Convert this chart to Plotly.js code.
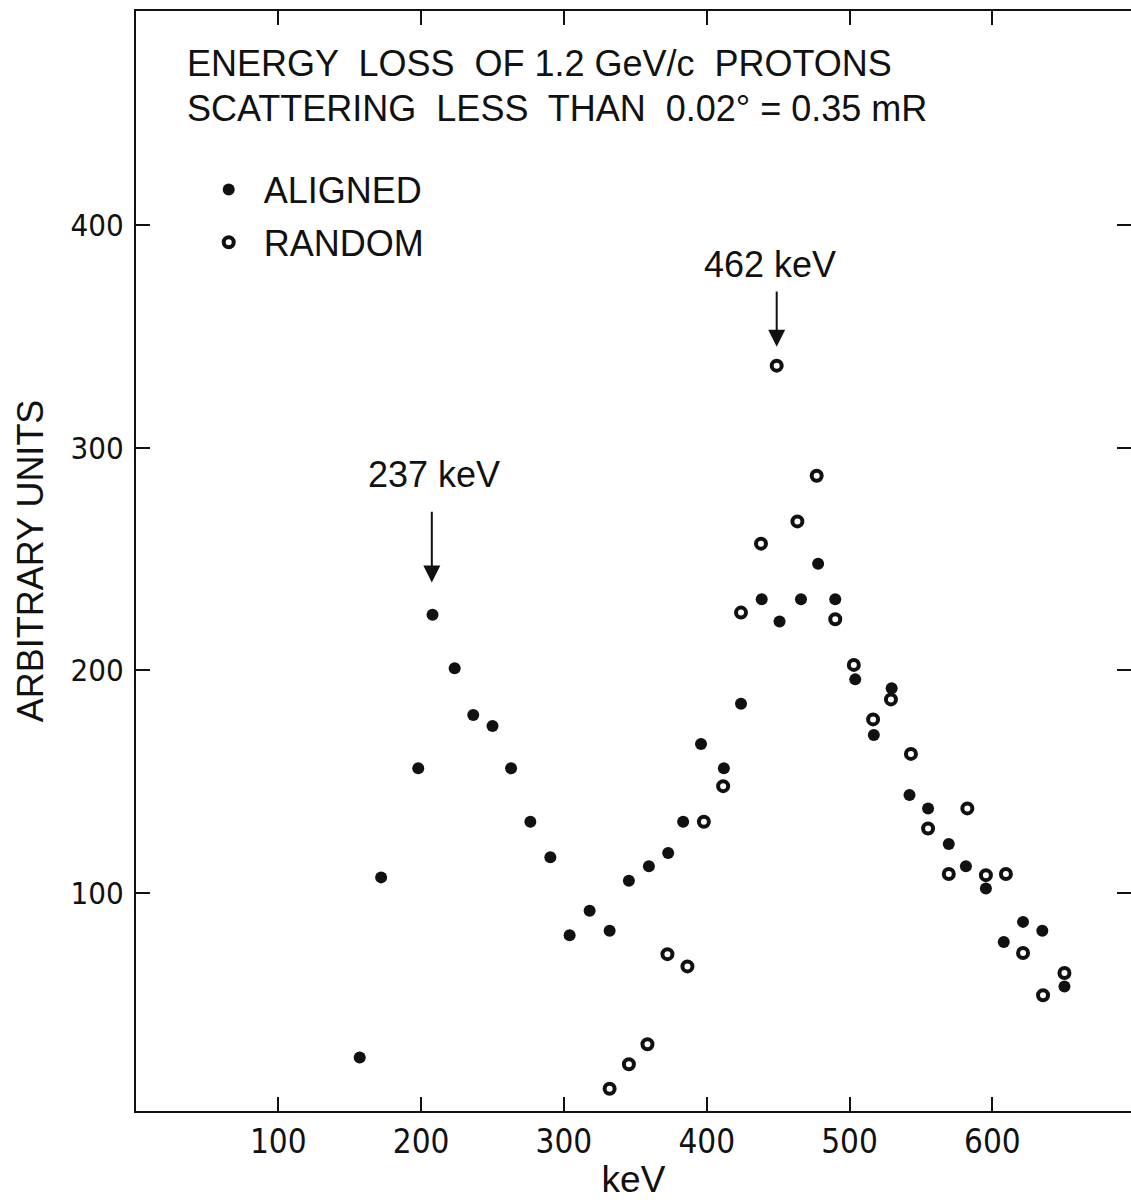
<!DOCTYPE html>
<html><head><meta charset="utf-8">
<script src="https://cdn.plot.ly/plotly-3.0.1.min.js"></script>
<style>html,body{margin:0;padding:0;background:#fff;overflow:hidden}</style>
</head><body><div id="chart" style="width:1131px;height:1200px"></div>
<script>
// Aligned (filled circles)
const alignedKeV = [157, 172, 198, 208, 223.5, 236.5, 250, 263, 276.5, 290.5, 304, 318, 332, 345.5, 359.5, 373, 383.5, 396, 412, 424, 438.5, 451, 466, 478, 490, 504, 517, 529.5, 542, 555, 569.5, 581.5, 595.5, 608, 621.5, 635, 650.5];
const alignedCounts = [26, 107, 156, 225, 201, 180, 175, 156, 132, 116, 81, 92, 83, 105.5, 112, 118, 132, 167, 156, 185, 232, 222, 232, 248, 232, 196, 171, 192, 144, 138, 122, 112, 102, 78, 87, 83, 58];
// Random (open circles)
const randomKeV = [332, 345.5, 358.5, 372.5, 386.5, 398, 411.5, 424, 438, 449, 463.5, 477, 490, 503, 516.5, 529, 543, 555, 569.5, 582.5, 595.5, 609.5, 621.5, 635.5, 650.5];
const randomCounts = [12, 23, 32, 72.5, 67, 132, 148, 226, 257, 337, 267, 287.5, 223, 202.5, 178, 187, 162.5, 129, 108.5, 138, 108, 108.5, 73, 54, 64];
const xTickVals = [100, 200, 300, 400, 500, 600];
const yTickVals = [100, 200, 300, 400];
const titleLines = ["ENERGY  LOSS  OF 1.2 GeV/c  PROTONS", "SCATTERING  LESS  THAN  0.02° = 0.35 mR"];
const peakLabels = ["462 keV", "237 keV"];
const peakArrowKeV = [449, 207.5];
const peakArrowTip = [345.5, 239.5];
const peakArrowTail = [371, 272];
const peakTextKeV = [444, 209];
const peakTextY = [382.5, 288];

const INK = '#111';
const condensed = '"Liberation Sans Narrow", "DejaVu Sans Condensed", "Liberation Sans", sans-serif';
const sans = '"Liberation Sans", Arial, sans-serif';
const textFont = {family: sans, size: 36, color: INK};

const traces = [
  {x: alignedKeV, y: alignedCounts, type: 'scatter', mode: 'markers', name: 'ALIGNED', legendgroup: 'a',
   marker: {symbol: 'circle', size: 12, color: INK}},
  {x: randomKeV, y: randomCounts, type: 'scatter', mode: 'markers', name: 'RANDOM', legendgroup: 'r',
   marker: {symbol: 'circle-open', size: 10, color: INK, line: {width: 4, color: INK}}}
];

const annotations = [];
titleLines.forEach((t, i) => annotations.push({
  text: t, xref: 'paper', yref: 'paper', x: 0.049, y: [0.9527, 0.9118][i],
  xanchor: 'left', yanchor: 'middle', showarrow: false, font: textFont
}));
peakLabels.forEach((t, i) => {
  annotations.push({text: t, xref: 'x', yref: 'y', x: peakTextKeV[i], y: peakTextY[i],
    xanchor: 'center', yanchor: 'middle', showarrow: false, font: textFont});
  annotations.push({text: '', xref: 'x', yref: 'y', x: peakArrowKeV[i], y: peakArrowTip[i],
    axref: 'x', ayref: 'y', ax: peakArrowKeV[i], ay: peakArrowTail[i],
    showarrow: true, arrowhead: 2, arrowsize: 1.7, arrowwidth: 2, arrowcolor: INK});
});

const layout = {
  width: 1131, height: 1200,
  margin: {l: 136, r: 0, t: 11, b: 89},
  paper_bgcolor: '#fff', plot_bgcolor: '#fff',
  showlegend: true,
  legend: {x: 0.058, y: 0.865, xanchor: 'left', yanchor: 'top', bgcolor: 'rgba(0,0,0,0)',
    itemwidth: 60, traceorder: 'grouped', tracegroupgap: 3,
    font: {family: sans, size: 36, color: INK}},
  xaxis: {range: [0.35, 697.1], tickvals: xTickVals, ticktext: xTickVals.map(String),
    ticks: 'inside', ticklen: 14, tickwidth: 2, tickcolor: INK,
    showline: true, linewidth: 2, linecolor: INK, mirror: 'ticks',
    showgrid: false, zeroline: false, tickfont: {family: condensed, size: 33, color: INK}, ticklabelstandoff: 0,
    title: {text: 'keV', font: {family: sans, size: 37, color: INK}, standoff: 29}},
  yaxis: {range: [2.0, 496.4], tickvals: yTickVals, ticktext: yTickVals.map(String),
    ticks: 'inside', ticklen: 14, tickwidth: 2, tickcolor: INK,
    showline: true, linewidth: 2, linecolor: INK, mirror: 'ticks',
    showgrid: false, zeroline: false, tickfont: {family: condensed, size: 31, color: INK}, ticklabelstandoff: 4,
    title: {text: 'ARBITRARY UNITS', font: {family: sans, size: 36, color: INK}, standoff: 16}},
  annotations: annotations
};

Plotly.newPlot('chart', traces, layout, {staticPlot: true, displayModeBar: false});
</script></body></html>
